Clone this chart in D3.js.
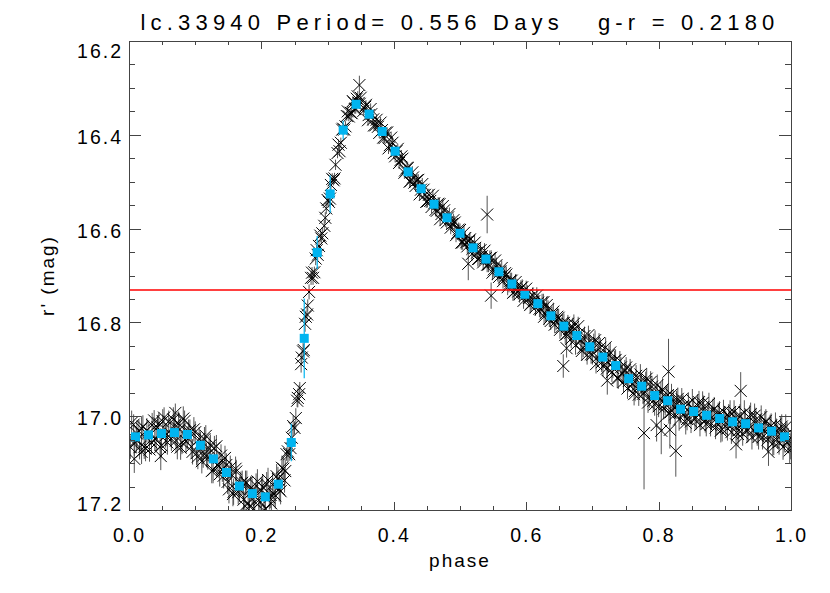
<!DOCTYPE html>
<html>
<head>
<meta charset="utf-8">
<script src="https://cdn.jsdelivr.net/npm/d3@7"></script>
<style>
  body { margin: 0; background: #fff; }
  svg { display: block; }
  text { font-family: 'Liberation Sans', Helvetica, Arial, sans-serif; fill: #000; }
  .title { font-size: 22px; letter-spacing: 5.2px; white-space: pre; }
  .axis text { font-size: 19.5px; letter-spacing: 2px; }
  .axis path, .axis line { stroke: #444; shape-rendering: crispEdges; }
  .axis-label { font-size: 19px; letter-spacing: 2px; white-space: pre; }
</style>
</head>
<body>
<svg id="chart"></svg>
<script>
let WIDTH = 830, HEIGHT = 593;
let margin = {top: 41, right: 39, bottom: 83, left: 129};

let titleText = 'lc.33940 Period= 0.556 Days   g-r = 0.2180';
let xLabel = 'phase';
let yLabel = "r' (mag)";
let xTicks = [0.0, 0.2, 0.4, 0.6, 0.8, 1.0];
let yTicks = [16.2, 16.4, 16.6, 16.8, 17.0, 17.2];
let meanMag = 16.731;   // red line

// binned light curve (blue squares)
let binPhase = [0.0098, 0.0294, 0.0490, 0.0686, 0.0882, 0.1078, 0.1275, 0.1471, 0.1667, 0.1863,
  0.2059, 0.2255, 0.2451, 0.2647, 0.2843, 0.3039, 0.3235, 0.3431, 0.3627, 0.3824,
  0.4020, 0.4216, 0.4412, 0.4608, 0.4804, 0.5000, 0.5196, 0.5392, 0.5588, 0.5784,
  0.5980, 0.6176, 0.6373, 0.6569, 0.6765, 0.6961, 0.7157, 0.7353, 0.7549, 0.7745,
  0.7941, 0.8137, 0.8333, 0.8529, 0.8725, 0.8922, 0.9118, 0.9314, 0.9510, 0.9706, 0.9902];
let binMag = [17.044, 17.040, 17.037, 17.035, 17.039, 17.062, 17.091, 17.120, 17.149, 17.165,
  17.172, 17.145, 17.056, 16.834, 16.651, 16.526, 16.390, 16.335, 16.356, 16.393,
  16.435, 16.479, 16.515, 16.548, 16.577, 16.610, 16.641, 16.665, 16.692, 16.718,
  16.740, 16.760, 16.786, 16.808, 16.828, 16.852, 16.874, 16.892, 16.920, 16.936,
  16.956, 16.967, 16.985, 16.990, 16.998, 17.005, 17.012, 17.016, 17.025, 17.032, 17.044];
let binErr = [0.005, 0.005, 0.005, 0.005, 0.005, 0.005, 0.005, 0.005, 0.006, 0.006,
  0.006, 0.008, 0.040, 0.085, 0.035, 0.040, 0.020, 0.005, 0.004, 0.004,
  0.004, 0.004, 0.004, 0.004, 0.004, 0.005, 0.005, 0.005, 0.005, 0.005,
  0.005, 0.005, 0.005, 0.005, 0.005, 0.006, 0.006, 0.006, 0.006, 0.006,
  0.006, 0.006, 0.006, 0.006, 0.006, 0.006, 0.006, 0.006, 0.006, 0.006, 0.006];

// individual observations: [phase, mag, err]
let obs = [
  [0.002,17.066,0.025],[0.007,17.018,0.022],[0.011,17.051,0.028],[0.015,17.032,0.024],[0.019,17.076,0.026],[0.008,17.091,0.03],
  [0.021,17.022,0.024],[0.025,17.069,0.027],[0.030,17.035,0.023],[0.034,17.056,0.025],[0.038,17.009,0.022],
  [0.041,17.048,0.025],[0.045,17.015,0.023],[0.049,17.062,0.026],[0.053,17.003,0.022],[0.057,17.039,0.024],[0.048,17.085,0.03],
  [0.060,17.011,0.023],[0.064,17.048,0.026],[0.069,17.019,0.024],[0.073,17.065,0.027],[0.077,17.028,0.022],[0.070,16.993,0.02],
  [0.080,17.056,0.025],[0.084,17.010,0.022],[0.088,17.046,0.024],[0.092,17.030,0.023],[0.096,17.076,0.027],
  [0.100,17.034,0.023],[0.104,17.086,0.027],[0.108,17.057,0.024],[0.112,17.084,0.026],[0.116,17.042,0.023],
  [0.119,17.089,0.025],[0.123,17.062,0.023],[0.127,17.115,0.028],[0.132,17.064,0.024],[0.136,17.106,0.026],
  [0.139,17.084,0.024],[0.143,17.127,0.027],[0.147,17.104,0.025],[0.151,17.156,0.03],[0.155,17.125,0.026],
  [0.158,17.161,0.028],[0.162,17.118,0.025],[0.167,17.156,0.027],[0.171,17.142,0.026],[0.175,17.191,0.03],
  [0.178,17.142,0.026],[0.182,17.192,0.03],[0.186,17.160,0.027],[0.190,17.183,0.029],[0.194,17.139,0.026],
  [0.198,17.183,0.029],[0.202,17.151,0.027],[0.206,17.197,0.03],[0.210,17.136,0.026],[0.214,17.168,0.028],
  [0.217,17.146,0.027],[0.221,17.169,0.028],[0.225,17.134,0.026],[0.229,17.160,0.028],[0.233,17.112,0.025],
  [0.236,17.117,0.025],[0.240,17.075,0.023],[0.244,17.068,0.024],[0.248,17.021,0.022],[0.252,17.004,0.021],[0.255,16.961,0.02],
  [0.257,16.953,0.02],[0.260,16.889,0.018],[0.263,16.862,0.018],[0.266,16.803,0.017],[0.269,16.783,0.017],[0.272,16.735,0.016],
  [0.275,16.705,0.015],[0.278,16.705,0.015],[0.282,16.664,0.014],[0.285,16.656,0.014],[0.289,16.615,0.013],[0.292,16.610,0.013],
  [0.295,16.594,0.013],[0.298,16.557,0.012],[0.302,16.543,0.012],[0.305,16.507,0.012],[0.309,16.497,0.011],[0.312,16.464,0.011],
  [0.315,16.439,0.011],[0.318,16.435,0.011],[0.322,16.389,0.01],[0.325,16.389,0.01],[0.329,16.360,0.01],[0.332,16.361,0.01],
  [0.335,16.353,0.01],[0.338,16.328,0.01],[0.341,16.345,0.01],[0.344,16.323,0.01],[0.347,16.332,0.01],[0.350,16.321,0.01],[0.348,16.294,0.02],
  [0.354,16.349,0.01],[0.358,16.336,0.01],[0.362,16.358,0.01],[0.366,16.356,0.01],[0.370,16.380,0.011],
  [0.374,16.368,0.01],[0.378,16.396,0.011],[0.382,16.390,0.011],[0.386,16.407,0.011],[0.390,16.395,0.011],
  [0.394,16.422,0.011],[0.398,16.417,0.011],[0.402,16.446,0.012],[0.406,16.430,0.011],[0.410,16.454,0.012],
  [0.413,16.451,0.012],[0.417,16.476,0.012],[0.421,16.471,0.012],[0.425,16.499,0.013],[0.429,16.491,0.012],
  [0.433,16.509,0.013],[0.437,16.496,0.012],[0.441,16.517,0.013],[0.445,16.517,0.013],[0.449,16.543,0.013],
  [0.453,16.528,0.013],[0.457,16.554,0.013],[0.461,16.546,0.013],[0.465,16.562,0.014],[0.469,16.548,0.013],
  [0.472,16.569,0.014],[0.476,16.561,0.014],[0.480,16.587,0.014],[0.484,16.569,0.014],[0.488,16.590,0.014],
  [0.492,16.587,0.014],[0.496,16.609,0.015],[0.500,16.603,0.014],[0.504,16.630,0.015],[0.508,16.620,0.015],[0.5125,16.675,0.035],
  [0.511,16.638,0.015],[0.515,16.623,0.015],[0.519,16.643,0.015],[0.523,16.641,0.015],[0.527,16.665,0.016],
  [0.531,16.646,0.015],[0.535,16.672,0.016],[0.539,16.663,0.016],[0.543,16.677,0.016],[0.547,16.662,0.016],[0.541,16.570,0.04],[0.547,16.743,0.028],
  [0.551,16.687,0.016],[0.555,16.678,0.016],[0.559,16.703,0.017],[0.563,16.684,0.016],[0.567,16.704,0.017],
  [0.570,16.698,0.017],[0.574,16.719,0.017],[0.578,16.711,0.017],[0.582,16.735,0.018],[0.586,16.724,0.017],
  [0.590,16.740,0.018],[0.594,16.725,0.017],[0.598,16.743,0.018],[0.602,16.739,0.018],[0.606,16.763,0.018],
  [0.610,16.743,0.018],[0.614,16.768,0.018],[0.618,16.758,0.018],[0.622,16.772,0.019],[0.626,16.757,0.018],
  [0.629,16.781,0.019],[0.633,16.772,0.019],[0.637,16.797,0.019],[0.641,16.777,0.019],[0.645,16.797,0.02],
  [0.649,16.790,0.019],[0.653,16.810,0.02],[0.657,16.801,0.02],[0.661,16.825,0.02],[0.665,16.814,0.02],[0.656,16.893,0.025],[0.661,16.855,0.02],
  [0.668,16.835,0.02],[0.672,16.803,0.02],[0.676,16.833,0.02],[0.680,16.823,0.02],[0.684,16.861,0.021],
  [0.688,16.829,0.02],[0.692,16.869,0.021],[0.696,16.848,0.021],[0.700,16.869,0.021],[0.704,16.838,0.021],
  [0.708,16.874,0.021],[0.712,16.854,0.021],[0.716,16.893,0.022],[0.720,16.853,0.021],[0.724,16.885,0.022],[0.7225,16.924,0.03],
  [0.727,16.864,0.021],[0.731,16.897,0.022],[0.735,16.880,0.022],[0.739,16.919,0.023],[0.743,16.896,0.022],
  [0.747,16.927,0.023],[0.751,16.896,0.022],[0.755,16.925,0.023],[0.759,16.916,0.023],[0.763,16.953,0.024],
  [0.766,16.914,0.023],[0.770,16.954,0.024],[0.774,16.932,0.023],[0.778,16.951,0.024],[0.782,16.920,0.023],[0.778,17.036,0.12],
  [0.786,16.958,0.024],[0.790,16.937,0.023],[0.794,16.975,0.024],[0.798,16.934,0.023],[0.802,16.964,0.024],[0.797,17.019,0.035],[0.804,17.031,0.05],
  [0.806,16.943,0.024],[0.810,16.974,0.024],[0.814,16.955,0.024],[0.818,16.992,0.025],[0.822,16.968,0.024],[0.815,16.905,0.07],[0.817,17.029,0.04],[0.826,17.074,0.055],
  [0.825,16.996,0.024],[0.829,16.963,0.024],[0.833,16.990,0.025],[0.837,16.978,0.024],[0.841,17.014,0.025],
  [0.845,16.973,0.024],[0.849,17.011,0.025],[0.853,16.986,0.025],[0.857,17.003,0.025],[0.861,16.970,0.024],
  [0.864,17.003,0.025],[0.868,16.980,0.024],[0.872,17.017,0.026],[0.876,16.974,0.024],[0.880,17.003,0.025],
  [0.884,16.984,0.025],[0.888,17.014,0.025],[0.892,16.993,0.025],[0.896,17.028,0.026],[0.900,17.003,0.025],
  [0.904,17.026,0.026],[0.908,16.991,0.025],[0.912,17.017,0.026],[0.916,17.004,0.025],[0.920,17.038,0.026],[0.917,17.060,0.03],
  [0.923,16.999,0.025],[0.927,17.037,0.026],[0.931,17.012,0.026],[0.935,17.029,0.026],[0.939,16.996,0.025],[0.924,16.946,0.04],
  [0.943,17.030,0.026],[0.947,17.007,0.025],[0.951,17.044,0.027],[0.955,17.002,0.025],[0.959,17.030,0.026],
  [0.962,17.010,0.025],[0.966,17.040,0.026],[0.970,17.020,0.026],[0.974,17.056,0.027],[0.978,17.031,0.026],[0.966,17.076,0.03],
  [0.982,17.055,0.027],[0.986,17.022,0.026],[0.990,17.049,0.027],[0.994,17.038,0.026],[0.998,17.073,0.028],
  // second night
  [0.004,17.014,0.026],[0.008,17.059,0.026],[0.012,17.037,0.026],[0.016,17.066,0.026],[0.019,17.026,0.026],
  [0.023,17.065,0.026],[0.027,17.030,0.026],[0.031,17.071,0.026],[0.035,17.019,0.026],[0.039,17.048,0.026],
  [0.043,17.024,0.026],[0.047,17.066,0.026],[0.051,17.011,0.026],[0.055,17.041,0.026],[0.058,17.056,0.026],
  [0.063,17.038,0.026],[0.067,17.007,0.026],[0.071,17.052,0.026],[0.075,17.016,0.026],[0.078,17.067,0.026],
  [0.082,17.005,0.026],[0.086,17.053,0.026],[0.090,17.033,0.026],[0.094,17.065,0.026],[0.098,17.028,0.026],
  [0.102,17.079,0.026],[0.106,17.049,0.026],[0.110,17.096,0.026],[0.114,17.049,0.026],[0.117,17.083,0.026],
  [0.121,17.069,0.026],[0.125,17.117,0.026],[0.129,17.068,0.026],[0.133,17.104,0.026],[0.137,17.124,0.026],
  [0.141,17.114,0.026],[0.145,17.089,0.026],[0.149,17.140,0.026],[0.153,17.110,0.026],[0.157,17.166,0.026],
  [0.161,17.112,0.026],[0.165,17.162,0.026],[0.169,17.144,0.026],[0.173,17.178,0.026],[0.176,17.142,0.026],
  [0.180,17.186,0.026],[0.184,17.154,0.026],[0.188,17.197,0.026],[0.192,17.148,0.026],[0.196,17.179,0.026],
  [0.200,17.159,0.026],[0.204,17.201,0.026],[0.208,17.145,0.026],[0.212,17.173,0.026],[0.215,17.186,0.026],
  [0.219,17.166,0.026],[0.223,17.128,0.026],[0.227,17.156,0.026],[0.231,17.110,0.026],[0.235,17.137,0.026],
  [0.238,17.081,0.014],[0.242,17.081,0.014],[0.246,17.046,0.014],[0.250,17.025,0.014],[0.254,16.967,0.014],
  [0.258,16.940,0.013],[0.261,16.875,0.013],[0.264,16.859,0.013],[0.267,16.788,0.013],[0.270,16.764,0.013],
  [0.2765,16.694,0.012],[0.280,16.693,0.012],[0.2835,16.646,0.012],[0.287,16.637,0.012],[0.2905,16.621,0.012],
  [0.2965,16.577,0.012],[0.300,16.539,0.012],[0.3035,16.536,0.012],[0.307,16.494,0.012],[0.3105,16.493,0.012],
  [0.3165,16.421,0.011],[0.320,16.417,0.011],[0.3235,16.387,0.011],[0.327,16.382,0.011],[0.3305,16.350,0.011],
  [0.3365,16.354,0.011],[0.3395,16.331,0.011],[0.3425,16.344,0.011],[0.3455,16.318,0.011],[0.3485,16.334,0.011],
  [0.357,16.340,0.012],[0.361,16.369,0.012],[0.365,16.345,0.012],[0.369,16.367,0.012],[0.372,16.380,0.012],
  [0.376,16.383,0.012],[0.380,16.374,0.012],[0.384,16.406,0.012],[0.388,16.395,0.012],[0.392,16.429,0.012],
  [0.396,16.406,0.013],[0.400,16.439,0.013],[0.404,16.435,0.013],[0.408,16.460,0.013],[0.4115,16.446,0.013],
  [0.416,16.481,0.013],[0.420,16.470,0.013],[0.424,16.500,0.013],[0.428,16.480,0.013],[0.431,16.502,0.013],
  [0.435,16.497,0.013],[0.439,16.527,0.013],[0.443,16.505,0.013],[0.447,16.528,0.013],[0.451,16.542,0.013],
  [0.455,16.541,0.014],[0.459,16.530,0.014],[0.463,16.560,0.014],[0.467,16.547,0.014],[0.470,16.580,0.014],
  [0.474,16.552,0.014],[0.478,16.582,0.014],[0.482,16.576,0.014],[0.486,16.598,0.014],[0.490,16.582,0.014],
  [0.494,16.614,0.015],[0.498,16.602,0.015],[0.502,16.630,0.015],[0.506,16.609,0.015],[0.5095,16.629,0.015],
  [0.514,16.626,0.015],[0.518,16.654,0.015],[0.522,16.630,0.015],[0.526,16.651,0.015],[0.529,16.664,0.015],
  [0.533,16.659,0.016],[0.537,16.647,0.016],[0.541,16.677,0.016],[0.545,16.663,0.016],[0.549,16.694,0.016],
  [0.553,16.668,0.016],[0.557,16.697,0.016],[0.561,16.691,0.016],[0.565,16.712,0.016],[0.568,16.695,0.016],
  [0.572,16.725,0.017],[0.576,16.711,0.017],[0.580,16.737,0.017],[0.584,16.714,0.017],[0.588,16.734,0.017],
  [0.592,16.727,0.017],[0.596,16.754,0.017],[0.600,16.728,0.017],[0.604,16.748,0.017],[0.6075,16.760,0.017],
  [0.612,16.755,0.018],[0.616,16.743,0.018],[0.620,16.771,0.018],[0.624,16.757,0.018],[0.627,16.788,0.018],
  [0.631,16.763,0.018],[0.635,16.792,0.018],[0.639,16.784,0.018],[0.643,16.805,0.018],[0.647,16.788,0.018],
  [0.651,16.816,0.019],[0.655,16.801,0.019],[0.659,16.827,0.019],[0.663,16.803,0.019],[0.6665,16.822,0.019],
  [0.6705,16.810,0.02],[0.6745,16.849,0.02],[0.6785,16.808,0.02],[0.6825,16.839,0.02],[0.686,16.854,0.02],
  [0.690,16.848,0.02],[0.694,16.827,0.02],[0.698,16.868,0.02],[0.702,16.844,0.02],[0.7055,16.889,0.02],
  [0.710,16.844,0.021],[0.714,16.885,0.021],[0.718,16.871,0.021],[0.722,16.898,0.021],[0.725,16.870,0.021],
  [0.7295,16.906,0.021],[0.7335,16.882,0.021],[0.7375,16.919,0.021],[0.7415,16.882,0.021],[0.745,16.909,0.021],
  [0.749,16.902,0.022],[0.753,16.941,0.022],[0.757,16.900,0.022],[0.761,16.931,0.022],[0.7645,16.946,0.022],
  [0.7685,16.933,0.022],[0.7725,16.911,0.022],[0.7765,16.952,0.022],[0.7805,16.927,0.022],[0.784,16.971,0.022],
  [0.788,16.927,0.023],[0.792,16.967,0.023],[0.796,16.953,0.023],[0.800,16.979,0.023],[0.8035,16.950,0.023],
  [0.8075,16.984,0.023],[0.8115,16.958,0.023],[0.8155,16.993,0.023],[0.8195,16.954,0.023],[0.823,16.980,0.023],
  [0.827,16.970,0.024],[0.831,17.007,0.024],[0.835,16.964,0.024],[0.839,16.993,0.024],[0.843,17.006,0.024],
  [0.847,16.991,0.024],[0.851,16.966,0.024],[0.855,17.005,0.024],[0.859,16.977,0.024],[0.8625,17.019,0.024],
  [0.8665,16.972,0.025],[0.8705,17.010,0.025],[0.8745,16.994,0.025],[0.8785,17.018,0.025],[0.882,16.988,0.025],
  [0.886,17.024,0.025],[0.890,16.996,0.025],[0.894,17.031,0.025],[0.898,16.990,0.025],[0.9015,17.014,0.025],
  [0.906,16.999,0.025],[0.910,17.034,0.025],[0.914,16.991,0.025],[0.918,17.018,0.025],[0.921,17.030,0.025],
  [0.9255,17.017,0.026],[0.9295,16.992,0.026],[0.9335,17.031,0.026],[0.9375,17.003,0.026],[0.941,17.045,0.026],
  [0.945,16.999,0.026],[0.949,17.037,0.026],[0.953,17.021,0.026],[0.957,17.045,0.026],[0.9605,17.015,0.026],
  [0.9645,17.050,0.026],[0.9685,17.023,0.026],[0.9725,17.058,0.026],[0.9765,17.018,0.026],[0.980,17.043,0.026],
  [0.984,17.029,0.027],[0.988,17.066,0.027],[0.992,17.023,0.027],[0.996,17.052,0.027],[0.9995,17.065,0.027]
];

let width = WIDTH - margin.left - margin.right,
    height = HEIGHT - margin.top - margin.bottom;

let svg = d3.select('#chart').attr('width', WIDTH).attr('height', HEIGHT);

let sx = d3.scaleLinear().domain([0, 1]).range([0, width]);
let sy = d3.scaleLinear().domain([16.2, 17.2]).range([0, height]);

let g = svg.append('g').attr('transform', `translate(${margin.left},${margin.top})`);

g.append('clipPath').attr('id', 'clip')
  .append('rect').attr('width', width).attr('height', height);

let data = g.append('g').attr('clip-path', 'url(#clip)');

// error bars of single points
data.append('g').selectAll('line')
  .data(obs)
  .enter().append('line')
    .attr('x1', d => sx(d[0])).attr('x2', d => sx(d[0]))
    .attr('y1', d => sy(d[1] - d[2])).attr('y2', d => sy(d[1] + d[2]))
    .style('stroke', '#555').style('stroke-width', 1);

// X symbols
let s = 6;
data.append('g').selectAll('path')
  .data(obs)
  .enter().append('path')
    .attr('d', d => {
      let px = sx(d[0]), py = sy(d[1]);
      return `M${px - s},${py - s}L${px + s},${py + s}M${px - s},${py + s}L${px + s},${py - s}`;
    })
    .style('stroke', '#000').style('stroke-width', 1).style('fill', 'none');

// binned means
let bins = binPhase.map((p, i) => ({p: p, m: binMag[i], e: binErr[i]}));
let blue = '#00b4f0';

data.append('g').selectAll('line')
  .data(bins)
  .enter().append('line')
    .attr('x1', d => sx(d.p)).attr('x2', d => sx(d.p))
    .attr('y1', d => sy(d.m - d.e)).attr('y2', d => sy(d.m + d.e))
    .style('stroke', blue).style('stroke-width', 1.2);

data.append('g').selectAll('rect')
  .data(bins)
  .enter().append('rect')
    .attr('x', d => sx(d.p) - 4.5).attr('y', d => sy(d.m) - 4.5)
    .attr('width', 9).attr('height', 9)
    .style('fill', blue);

g.append('line')
  .attr('x1', 0).attr('x2', width)
  .attr('y1', sy(meanMag)).attr('y2', sy(meanMag))
  .style('stroke', '#ff0000').style('stroke-width', 1.5);

// axes, IDL style: ticks inward on all four sides
let xMinor = d3.range(0, 1.0001, 0.05).filter(v => Math.abs(v * 5 - Math.round(v * 5)) > 1e-6);
let yMinor = d3.range(16.2, 17.2001, 0.05).filter(v => Math.abs((v - 16.2) * 5 - Math.round((v - 16.2) * 5)) > 1e-6);

g.append('g').attr('class', 'x axis').attr('transform', `translate(0,${height})`)
  .call(d3.axisBottom(sx).tickValues(xTicks).tickSize(-8).tickSizeOuter(0).tickPadding(18).tickFormat(d3.format('.1f')));
g.append('g').attr('class', 'x axis minor').attr('transform', `translate(0,${height})`)
  .call(d3.axisBottom(sx).tickValues(xMinor).tickSize(-4).tickSizeOuter(0).tickFormat(''));
g.append('g').attr('class', 'x axis top')
  .call(d3.axisTop(sx).tickValues(xTicks).tickSize(-8).tickSizeOuter(0).tickFormat(''));
g.append('g').attr('class', 'x axis top')
  .call(d3.axisTop(sx).tickValues(xMinor).tickSize(-4).tickSizeOuter(0).tickFormat(''));

g.append('g').attr('class', 'y axis')
  .call(d3.axisLeft(sy).tickValues(yTicks).tickSize(-12).tickSizeOuter(0).tickPadding(6).tickFormat(d3.format('.1f')));
g.append('g').attr('class', 'y axis')
  .call(d3.axisLeft(sy).tickValues(yMinor).tickSize(-6).tickSizeOuter(0).tickFormat(''));
g.append('g').attr('class', 'y axis right').attr('transform', `translate(${width},0)`)
  .call(d3.axisRight(sy).tickValues(yTicks).tickSize(-12).tickSizeOuter(0).tickFormat(''));
g.append('g').attr('class', 'y axis right').attr('transform', `translate(${width},0)`)
  .call(d3.axisRight(sy).tickValues(yMinor).tickSize(-6).tickSizeOuter(0).tickFormat(''));

// end labels are kept inside the frame, like IDL does
g.selectAll('.y.axis .tick text')
  .attr('dy', d => d === yTicks[0] ? '0.84em' : d === yTicks[yTicks.length - 1] ? '0em' : '0.44em');

svg.append('text')
  .attr('class', 'title')
  .attr('x', margin.left + width / 2).attr('y', 30)
  .style('text-anchor', 'middle')
  .text(titleText);

svg.append('text')
  .attr('class', 'axis-label')
  .attr('x', margin.left + width / 2).attr('y', 567)
  .style('text-anchor', 'middle')
  .text(xLabel);

svg.append('text')
  .attr('class', 'axis-label')
  .attr('transform', `translate(54,${margin.top + height / 2}) rotate(-90)`)
  .style('text-anchor', 'middle')
  .text(yLabel);
</script>
</body>
</html>
